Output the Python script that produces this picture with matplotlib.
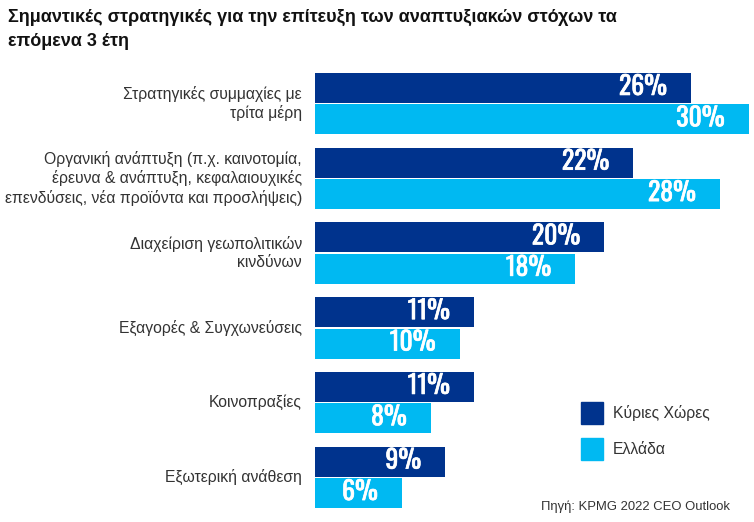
import matplotlib
matplotlib.use("Agg")
import matplotlib.pyplot as plt
from matplotlib import font_manager as fm
from matplotlib.patches import Rectangle
import matplotlib.patheffects as pe

categories = [
    "Στρατηγικές συμμαχίες με\nτρίτα μέρη",
    "Οργανική ανάπτυξη (π.χ. καινοτομία,\nέρευνα & ανάπτυξη, κεφαλαιουχικές\nεπενδύσεις, νέα προϊόντα και προσλήψεις)",
    "Διαχείριση γεωπολιτικών\nκινδύνων",
    "Εξαγορές & Συγχωνεύσεις",
    "Κοινοπραξίες",
    "Εξωτερική ανάθεση",
]
major = [26, 22, 20, 11, 11, 9]
greece = [30, 28, 18, 10, 8, 6]
series_names = ["Κύριες Χώρες", "Ελλάδα"]
title = "Σημαντικές στρατηγικές για την επίτευξη των αναπτυξιακών στόχων τα\nεπόμενα 3 έτη"
source = "Πηγή: KPMG 2022 CEO Outlook"

dark = "#00338d"
light = "#00b9f2"

names = {f.name for f in fm.fontManager.ttflist}
def pick(cands):
    for c in cands:
        if c in names:
            return c
    return "DejaVu Sans"
cond = pick(["Oswald", "Bebas Neue", "Roboto Condensed", "Barlow Condensed", "Archivo Narrow", "PT Sans Narrow"])
base = pick(["Liberation Sans", "Arimo", "DejaVu Sans"])

W, H = 754, 522
fig = plt.figure(figsize=(W/100, H/100), dpi=100)
ax = fig.add_axes([315/W, 1-508/H, (754-315)/W, (508-73)/H])
ax.set_xlim(0, 439/14.45)
n = len(categories)
ax.set_ylim(5.82, 0)
bh = 0.40
for i in range(n):
    ax.barh(i + 0.2, major[i], height=bh, color=dark)
    ax.barh(i + 0.62, greece[i], height=bh, color=light)
    for v, yc in ((major[i], i + 0.2), (greece[i], i + 0.62)):
        ax.annotate(f"{v}%", (v, yc), xytext=(-24, 1), textcoords="offset pixels",
                    ha="right", va="center", color="white",
                    fontsize=18.5, fontweight="bold", family=cond,
                    path_effects=[pe.withStroke(linewidth=0.5, foreground="white")])
    ax.annotate(categories[i], (0, i + 0.41), xytext=(-13, 0), textcoords="offset pixels",
                ha="right", va="center", multialignment="right",
                fontsize=11.3, color="#333333", family=base, linespacing=1.27)
ax.axis("off")

fig.text(8/W, 1-9/H, title, ha="left", va="top", fontsize=13, fontweight="bold",
         family=base, color="#111111", linespacing=1.55)

# legend
for k, (nm, c) in enumerate(zip(series_names, [dark, light])):
    y0 = 402 + k*36
    fig.patches.append(Rectangle((581/W, 1-(y0+22)/H), 22/W, 22/H, transform=fig.transFigure,
                                 color=c))
    fig.text(613/W, 1-(y0+11)/H, nm, ha="left", va="center", fontsize=11.3,
             family=base, color="#333333")

fig.text(541/W, 1-507/H, source, ha="left", va="center", fontsize=9.4, family=base,
         color="#333333")

fig.savefig("out.png", dpi=100)
